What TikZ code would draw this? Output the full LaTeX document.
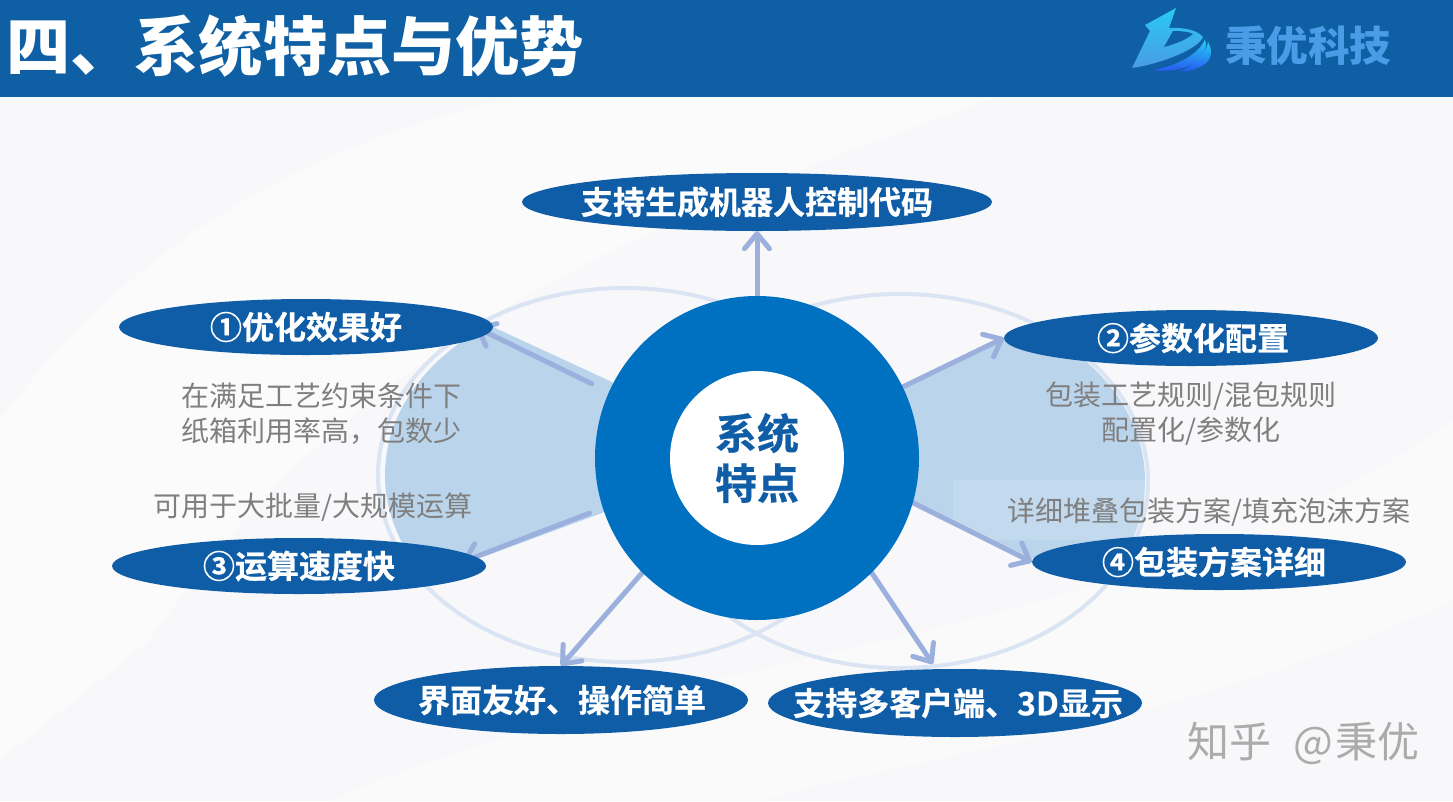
\documentclass[tikz,border=0pt]{standalone}
\usepackage{fontspec}
\usetikzlibrary{arrows.meta,shapes.geometric}
\setmainfont{Noto Sans CJK SC}[BoldFont={Noto Sans CJK SC Bold}]
\newfontfamily\cjkbold[FakeBold=0.6]{Noto Sans CJK SC Bold}
\newfontfamily\cjkblack{Noto Sans CJK SC Black}
\definecolor{band}{HTML}{0E5FA4}
\definecolor{pill}{HTML}{0F5DA6}
\definecolor{hubblue}{HTML}{0070C0}
\definecolor{wedge}{HTML}{BAD4EC}
\definecolor{ring}{HTML}{DAE4F2}
\definecolor{arrowblue}{HTML}{9CB0DE}
\definecolor{graytext}{HTML}{7F7F7F}
\definecolor{logotext}{HTML}{4A9CE6}
\definecolor{paper}{HTML}{F8F8FA}
\pgfdeclarelayer{under}
\pgfsetlayers{under,main}
\newcommand{\ct}[2][0pt]{\makebox[0pt][c]{\hspace*{#1}#2}}
\tikzset{
  pillnode/.style={ellipse,fill=pill,minimum width=374pt,minimum height=56pt,inner sep=0pt,text=white,
    font=\fontsize{32}{38}\selectfont\cjkbold},
  bigpill/.style={pillnode,minimum width=470pt,minimum height=58pt},
  lowpill/.style={pillnode,minimum height=68pt},
  link/.style={draw=arrowblue,line width=5pt,line cap=round,-{Straight Barb[length=15pt,width=25pt,line width=5pt,round]}},
  note/.style={text=graytext,align=center,inner sep=0pt,font=\fontsize{28}{35}\selectfont},
}
\begin{document}
\begin{tikzpicture}[x=1pt,y=-1pt]
\useasboundingbox (0,0) rectangle (1453,801);
\begin{pgfonlayer}{under}
  \fill[paper] (0,0) rectangle (1453,801);
  \fill[white,opacity=.45] (0,420) .. controls (120,260) and (280,150) .. (520,96) -- (1000,96) .. controls (720,200) and (380,300) .. (150,640) -- (0,760) -- cycle;
  \fill[white,opacity=.35] (330,801) .. controls (700,640) and (1150,640) .. (1453,420) -- (1453,600) .. controls (1200,720) and (900,760) .. (760,801) -- cycle;
  % shaded wedges
  \begin{scope}
    \clip (625,475) ellipse [x radius=240,y radius=182];
    \fill[wedge] (493,327) -- (612,382) -- (700,440) -- (602,513) -- (483,557) -- (300,560) -- (300,327) -- cycle;
  \end{scope}
  \begin{scope}
    \clip (900,481) ellipse [x radius=245,y radius=184];
    \fill[wedge] (905,385) -- (1005,337) -- (1200,337) -- (1200,562) -- (1030,558) -- (915,503) -- (800,440) -- cycle;
    \fill[white,opacity=.12] (953,480) rectangle (1200,540);
  \end{scope}
  \draw[ring,line width=4pt] (625,475) ellipse [x radius=247,y radius=187];
  \draw[ring,line width=4pt] (900,481) ellipse [x radius=248,y radius=187];
\end{pgfonlayer}

% header band
\fill[band] (0,0) rectangle (1453,97);
\node[anchor=west,inner sep=0pt,text=white,font=\fontsize{64.2}{70}\selectfont\cjkblack] (title) at (6,46) {四、系统特点与优势};

% logo
\shade[top color=cyan!45!logotext,bottom color=logotext] (1132,68) -- (1150,31) -- (1145,25) -- (1176,8) -- (1169,28) .. controls (1186,27) and (1198,31) .. (1203,37) .. controls (1199,48) and (1165,63) .. (1132,68) -- cycle;
\fill[band] (1173,31) .. controls (1182,31) and (1190,32) .. (1193,34) .. controls (1186,40) and (1175,44) .. (1164,47) -- cycle;
\shade[top color=cyan!50!logotext,bottom color=blue!45!logotext] (1153,70) .. controls (1178,66) and (1200,53) .. (1205,39) .. controls (1208,50) and (1203,60) .. (1192,65) .. controls (1181,70) and (1165,72) .. (1153,70) -- cycle;
\shade[top color=cyan!50!logotext,bottom color=blue!45!logotext] (1180,71) .. controls (1193,67) and (1206,56) .. (1208,42) .. controls (1214,52) and (1211,62) .. (1200,67) .. controls (1194,70) and (1187,72) .. (1180,71) -- cycle;
\node[anchor=west,inner sep=0pt,text=logotext,font=\fontsize{41.5}{46}\selectfont\cjkblack] (brand) at (1225,46) {秉优科技};

% hub
\node[circle,fill=hubblue,minimum size=324pt,inner sep=0pt] (hub) at (757,458) {};
\node[circle,fill=white,minimum size=174pt,inner sep=0pt,align=center,text=pill,font=\fontsize{42}{50}\selectfont\cjkbold] (core) at (757,458) {系统\\特点};

% pills
\node[bigpill] (e0) at (757,202) {\ct{支持生成机器人控制代码}};
\node[pillnode] (e1) at (306,327) {\ct{①优化效果好}};
\node[pillnode] (e2) at (1191,338) {\ct[4pt]{②参数化配置}};
\node[pillnode] (e3) at (299,566) {\ct{③运算速度快}};
\node[pillnode] (e4) at (1219,562) {\ct[-10pt]{④包装方案详细}};
\node[lowpill] (e5) at (561,700) {\ct[2pt]{界面友好、操作简单}};
\node[lowpill] (e6) at (955,703) {\ct[6pt]{支持多客户端、3D显示}};

% connectors
\begin{pgfonlayer}{under}
  \draw[link] (hub.north) -- (e0.south);
  \draw[link,shorten <=19pt,shorten >=-14pt] (hub.156) -- (e1.-2);
  \draw[link] (hub.26) -- (e2.west);
  \draw[link,shorten <=14pt,shorten >=-14pt] (hub.198) -- (e3.3);
  \draw[link] (hub.-16) -- (e4.west);
  \draw[link] (hub.225) -- (e5.north);
  \draw[link,shorten >=6pt] (hub.-45) -- (e6.119);
\end{pgfonlayer}

% notes
\node[note] (n1) at (321,414) {在满足工艺约束条件下\\纸箱利用率高，包数少};
\node[note] (n2) at (313,507) {可用于大批量/大规模运算};
\node[note] (n3) at (1191,414) {包装工艺规则/混包规则\\配置化/参数化};
\node[note] (n4) at (1209,512) {详细堆叠包装方案/填充泡沫方案};

% watermark
\node[anchor=west,inner sep=0pt,text=black!33,font=\fontsize{42}{46}\selectfont] (wm) at (1187,743) {知乎\hspace{22pt}@\hspace{3pt}秉优};
\end{tikzpicture}
\end{document}
